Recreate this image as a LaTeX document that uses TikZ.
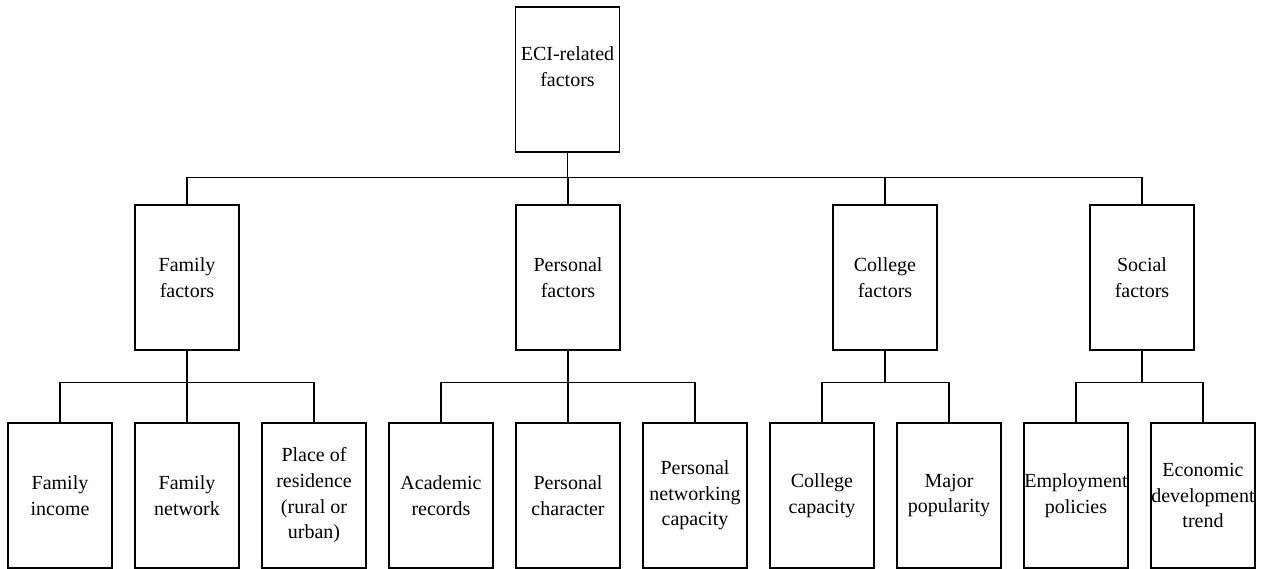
\documentclass[tikz,border=0pt]{standalone}
\usepackage{fontspec}
\setmainfont{Liberation Serif}
\begin{document}
\begin{tikzpicture}[x=1pt,y=-1pt,
  box/.style={draw,line width=1.2pt,inner sep=0pt,minimum width=104pt,minimum height=145pt,align=center,font=\fontsize{20}{25.7}\selectfont},
  conn/.style={line width=1.2pt}]
\useasboundingbox[fill=white] (0,0) rectangle (1263,569);
% top
\node[box] (top) at (567.5,79.5) {ECI-related\\factors\\\mbox{}};
% middle
\node[box] (fam) at (187,277.5) {Family\\factors};
\node[box] (per) at (568,277.5) {Personal\\factors};
\node[box] (col) at (885,277.5) {College\\factors};
\node[box] (soc) at (1142,277.5) {Social\\factors};
% bottom
\node[box] (c1) at (60,495.5) {Family\\income};
\node[box] (c2) at (187,495.5) {Family\\network};
\node[box] (c3) at (314,495.5) {Place of\\residence\\(rural or\\urban)};
\node[box] (c4) at (441,495.5) {Academic\\records};
\node[box] (c5) at (568,495.5) {Personal\\character};
\node[box] (c6) at (695,495.5) {Personal\\networking\\capacity};
\node[box] (c7) at (822,495.5) {College\\capacity};
\node[box] (c8) at (949,495.5) {Major\\popularity};
\node[box] (c9) at (1076,495.5) {Employment\\policies};
\node[box] (c10) at (1203,495.5) {Economic\\development\\trend};
% connectors top level
\coordinate (b0) at (567.5,178.5);
\draw[conn] (top.south) -- (b0);
\draw[conn] (fam.north) -- ++(0,-26.5) -| (soc.north);
\draw[conn] (per.north) -- (per.north |- b0);
\draw[conn] (col.north) -- (col.north |- b0);
% family
\coordinate (b1) at (0,383);
\draw[conn] (fam.south) -- (fam.south |- b1);
\draw[conn] (c1.north) -- ++(0,-40) -| (c3.north);
\draw[conn] (c2.north) -- (c2.north |- b1);
% personal
\draw[conn] (per.south) -- (per.south |- b1);
\draw[conn] (c4.north) -- ++(0,-40) -| (c6.north);
\draw[conn] (c5.north) -- (c5.north |- b1);
% college
\draw[conn] (col.south) -- (col.south |- b1);
\draw[conn] (c7.north) -- ++(0,-40) -| (c8.north);
% social
\draw[conn] (soc.south) -- (soc.south |- b1);
\draw[conn] (c9.north) -- ++(0,-40) -| (c10.north);
\end{tikzpicture}
\end{document}
